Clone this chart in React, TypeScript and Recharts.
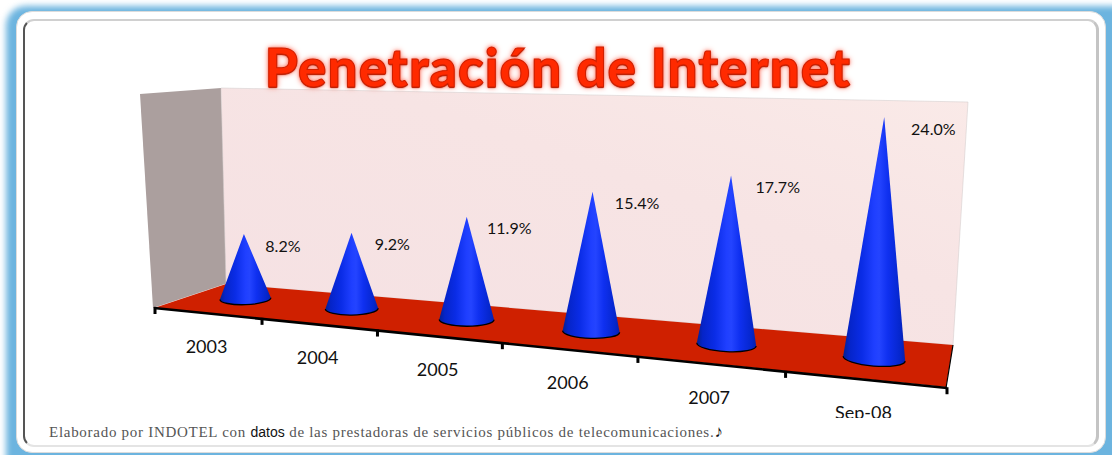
import React from "react";
import { BarChart, Bar, XAxis, YAxis, LabelList, Customized } from "recharts";

const categories = ["2003", "2004", "2005", "2006", "2007", "Sep-08"];
const penetration = [8.2, 9.2, 11.9, 15.4, 17.7, 24.0];
const valueLabels = ["8.2%", "9.2%", "11.9%", "15.4%", "17.7%", "24.0%"];
const chartData = categories.map((name, i) => ({ name, value: penetration[i], label: valueLabels[i] }));

const TITLE = "Penetración de Internet";

const PLOT_LEFT = 155;
const PLOT_WIDTH = 790;
const PERSP = 1.28;
const FONT = "Lato, Carlito, sans-serif";

// perspective along the category axis: u in plot fraction → screen fraction
const persp = (u: number) => u / (u + PERSP * (1 - u));
const plotU = (x: number) => (x - PLOT_LEFT) / PLOT_WIDTH;
// position on the front edge of the floor
const frontX = (x: number) => 155 + 792 * persp(plotU(x));
const frontY = (sx: number) => 308 + (sx - 155) * 0.1013;
// position on the floor's middle line (where cones stand)
const midX = (x: number) => 195 + 758 * persp(plotU(x));
const midY = (sx: number) => 298.5 + (sx - 245) * 0.0955;
const depth = (sx: number) => (7.87 + (sx - 245) * 0.00349) / 8;
const tipShift = (sx: number) => {
  const d = sx - 420;
  return (Math.sign(d) * d * d * 10) / (453 * 453);
};

const Cone = (p: any) => {
  const cx = midX(p.x + p.width / 2);
  const by = midY(cx);
  const r = ((25.5 + (cx - 245) * 0.00876) / 26) * (p.width / 2);
  const ry = r * 0.24;
  const tilt = -2 + ((cx - 245) * 6.6) / 628;
  const dy = Math.tan((tilt * Math.PI) / 180) * r;
  const tipX = cx + tipShift(cx);
  const tipY = by - p.height * depth(cx);
  const id = `cone-${p.index}`;
  const arc = `M${cx - r},${by - dy} A${r},${ry} ${tilt} 0 0 ${cx + r},${by + dy}`;
  return (
    <g>
      <defs>
        <linearGradient id={id} x1="0" x2="1" y1="0" y2="0">
          <stop offset="0" stopColor="#05208f" />
          <stop offset="0.1" stopColor="#0524c8" />
          <stop offset="0.3" stopColor="#0a2ce6" />
          <stop offset="0.5" stopColor="#1f3fff" />
          <stop offset="0.58" stopColor="#2444ff" />
          <stop offset="0.72" stopColor="#0f30f0" />
          <stop offset="0.92" stopColor="#0526cc" />
          <stop offset="1" stopColor="#0a1fa8" />
        </linearGradient>
      </defs>
      <path d={`M${tipX},${tipY} L${cx - r},${by - dy} A${r},${ry} ${tilt} 0 0 ${cx + r},${by + dy} Z`} fill={`url(#${id})`} />
      <path d={arc} fill="none" stroke="#000" strokeWidth={1.3} />
    </g>
  );
};

const ConeLabel = (p: any) => {
  const cx = midX(p.x + p.width / 2);
  const tipX = cx + tipShift(cx);
  const tipY = midY(cx) - p.height * depth(cx);
  return (
    <text x={tipX + 39 + (cx - 245) * 0.016} y={tipY + 13.5} textAnchor="middle" dominantBaseline="middle" fontFamily={FONT} fontSize={16} fill="#111">
      {p.value}
    </text>
  );
};

const AxisTick = (p: any) => {
  const band = PLOT_WIDTH / categories.length;
  const sx = frontX(p.payload.coordinate);
  const edges = [p.payload.coordinate - band / 2];
  if (p.index === categories.length - 1) edges.push(p.payload.coordinate + band / 2);
  return (
    <g>
      {edges.map((e) => {
        const ex = frontX(e);
        return <rect key={e} x={ex - 1.5} y={frontY(ex) - 1} width={3} height={7} fill="#000" />;
      })}
      <text x={sx - 1} y={frontY(sx) + 35} textAnchor="middle" dominantBaseline="middle" fontFamily={FONT} fontSize={18} fill="#111">
        {p.payload.value}
      </text>
    </g>
  );
};

const Room = () => (
  <g>
    <defs>
      <linearGradient id="backWall" x1="0" y1="1" x2="1" y2="0">
        <stop offset="0" stopColor="#f5e1e3" />
        <stop offset="0.6" stopColor="#f7e4e4" />
        <stop offset="1" stopColor="#faeae8" />
      </linearGradient>
    </defs>
    <polygon points="140,94 221,88 228,283 153,308" fill="#ab9f9e" />
    <polygon points="221,88 968,102 953,345 226,284" fill="url(#backWall)" stroke="#cfc9c9" strokeWidth={0.5} />
    <polygon points="154,308 226,284 953,345 946,387" fill="#cf2000" />
    <line x1={154} y1={308} x2={947} y2={388} stroke="#000" strokeWidth={2.6} />
    <line x1={953} y1={345} x2={946} y2={388} stroke="#000" strokeWidth={1.2} />
  </g>
);

const Frame = () => (
  <>
    <div style={{ position: "absolute", left: 6, top: 6, width: 1130, height: 480, borderRadius: 20, background: "#6cb4df", filter: "blur(3px)" }} />
    <div style={{ position: "absolute", left: 16, top: 11, width: 1090, height: 442, boxSizing: "border-box", borderRadius: 16, background: "#fff", border: "1px solid #dcdcdc" }} />
    <div
      style={{
        position: "absolute", left: 23, top: 19, width: 1076, height: 428, boxSizing: "border-box", borderRadius: 11, background: "#fff",
        borderLeft: "2px solid #555", borderTop: "2px solid #d0d0d0", borderRight: "3px solid #c4c4c4", borderBottom: "2px solid #e4e4e4",
      }}
    />
  </>
);

export default function App() {
  return (
    <div style={{ position: "absolute", left: 0, top: 0, width: 1112, height: 455, overflow: "hidden", background: "#fff" }}>
      <Frame />
      <div style={{ position: "absolute", left: 0, top: 0, width: 1112, height: 419, overflow: "hidden" }}>
        <BarChart
          width={1112}
          height={418}
          data={chartData}
          margin={{ top: 60, right: 167, bottom: 88, left: 155 }}
          barSize={52}
        >
          <Customized component={Room} />
          <XAxis dataKey="name" height={30} axisLine={false} tickLine={false} interval={0} tick={AxisTick} />
          <YAxis hide domain={[0, 30]} />
          <Bar dataKey="value" isAnimationActive={false} shape={Cone}>
            <LabelList dataKey="label" content={ConeLabel} />
          </Bar>
        </BarChart>
      </div>
      <div
        style={{
          position: "absolute", left: 0, top: 32, width: 1116, textAlign: "center", fontFamily: FONT, fontWeight: 900, fontSize: 53, lineHeight: "70px",
          letterSpacing: 1.1, color: "#ff2a00", whiteSpace: "nowrap", WebkitTextStroke: "1px #cf2000",
          textShadow: "0 1px 1px #a01800, 0 0 3px #ff7a68, 0 0 5px #ff9080, 0 0 7px #ffb0a4",
        }}
      >
        {TITLE}
      </div>
      <div style={{ position: "absolute", left: 49, top: 422, fontFamily: "'Liberation Serif', serif", fontSize: 15, letterSpacing: 0.72, color: "#555", whiteSpace: "nowrap" }}>
        Elaborado por INDOTEL con <span style={{ fontFamily: "'Liberation Sans', sans-serif", color: "#111", letterSpacing: 0, fontSize: 14 }}>datos</span> de las prestadoras de servicios públicos de telecomunicaciones.<span style={{ color: "#111", fontSize: 17 }}>♪</span>
      </div>
    </div>
  );
}
